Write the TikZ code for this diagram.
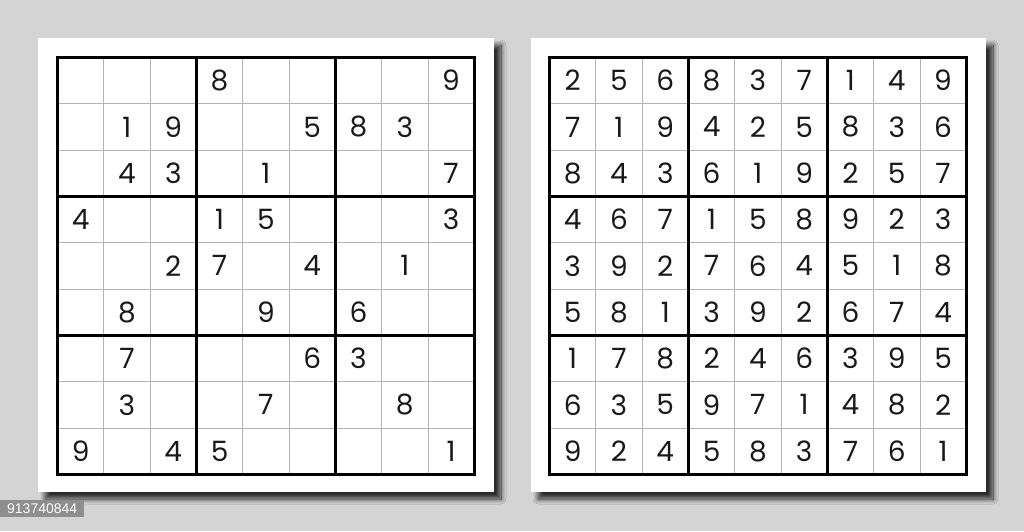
\documentclass[tikz,border=0pt]{standalone}
\usepackage{fontspec}
\setmainfont{Poppins}
\newfontfamily\tagfont{Liberation Sans}
\usetikzlibrary{shadows.blur, positioning}

\definecolor{bggray}{HTML}{D4D4D4}
\definecolor{thingray}{HTML}{B4B4B4}
\definecolor{taggray}{HTML}{8E8E8E}

\begin{document}
\begin{tikzpicture}[x=1pt, y=-1pt]
        \tikzstyle{card} = [fill=white, blur shadow={shadow xshift=7pt, shadow yshift=-7pt, shadow blur steps=12, shadow blur radius=5pt, shadow opacity=80}]
        \tikzstyle{thinline} = [draw=thingray, line width=0.7pt]
        \tikzstyle{boxline} = [draw=black, line width=3.4pt, line cap=rect]
        \tikzstyle{digit} = [inner sep=0pt, font=\fontsize{28}{28}\selectfont, text=black!90]
        \tikzstyle{idtag} = [fill=taggray, text=white, inner xsep=5pt, inner ysep=3pt, minimum width=84pt, minimum height=17pt, font=\tagfont\fontsize{14}{14}\selectfont]

        % background
        \fill[bggray] (0,0) rectangle (1024,531);

        % cards
        \path[card] (38,38) rectangle (494,492);
        \path[card] (531,38) rectangle (986,492);

        % grids
        \foreach \gx in {57.5, 549.5} {
            \foreach \i in {1,2,4,5,7,8} {
                \draw[thinline] ({\gx+\i*46.3}, 57.5) -- ({\gx+\i*46.3}, {57.5+9*46.3});
                \draw[thinline] (\gx, {57.5+\i*46.3}) -- ({\gx+9*46.3}, {57.5+\i*46.3});
            }
            \foreach \i in {0,3,6,9} {
                \draw[boxline] ({\gx+\i*46.3}, 57.5) -- ({\gx+\i*46.3}, {57.5+9*46.3});
                \draw[boxline] (\gx, {57.5+\i*46.3}) -- ({\gx+9*46.3}, {57.5+\i*46.3});
            }
        }

        % puzzle
        \foreach \row [count=\r] in {
            {0,0,0,8,0,0,0,0,9},
            {0,1,9,0,0,5,8,3,0},
            {0,4,3,0,1,0,0,0,7},
            {4,0,0,1,5,0,0,0,3},
            {0,0,2,7,0,4,0,1,0},
            {0,8,0,0,9,0,6,0,0},
            {0,7,0,0,0,6,3,0,0},
            {0,3,0,0,7,0,0,8,0},
            {9,0,4,5,0,0,0,0,1}} {
            \foreach \d [count=\c] in \row {
                \ifnum\d>0
                    \node[digit] (puzzle-\r-\c) at ({57.5+(\c-0.5)*46.3}, {57.5+(\r-0.5)*46.3}) {\d};
                \fi
            }
        }

        % solution
        \foreach \row [count=\r] in {
            {2,5,6,8,3,7,1,4,9},
            {7,1,9,4,2,5,8,3,6},
            {8,4,3,6,1,9,2,5,7},
            {4,6,7,1,5,8,9,2,3},
            {3,9,2,7,6,4,5,1,8},
            {5,8,1,3,9,2,6,7,4},
            {1,7,8,2,4,6,3,9,5},
            {6,3,5,9,7,1,4,8,2},
            {9,2,4,5,8,3,7,6,1}} {
            \foreach \d [count=\c] in \row {
                \node[digit] (solution-\r-\c) at ({549.5+(\c-0.5)*46.3}, {57.5+(\r-0.5)*46.3}) {\d};
            }
        }

        \node[idtag, anchor=north west] (imageid) at (0,500) {913740844};
    \end{tikzpicture}
\end{document}
